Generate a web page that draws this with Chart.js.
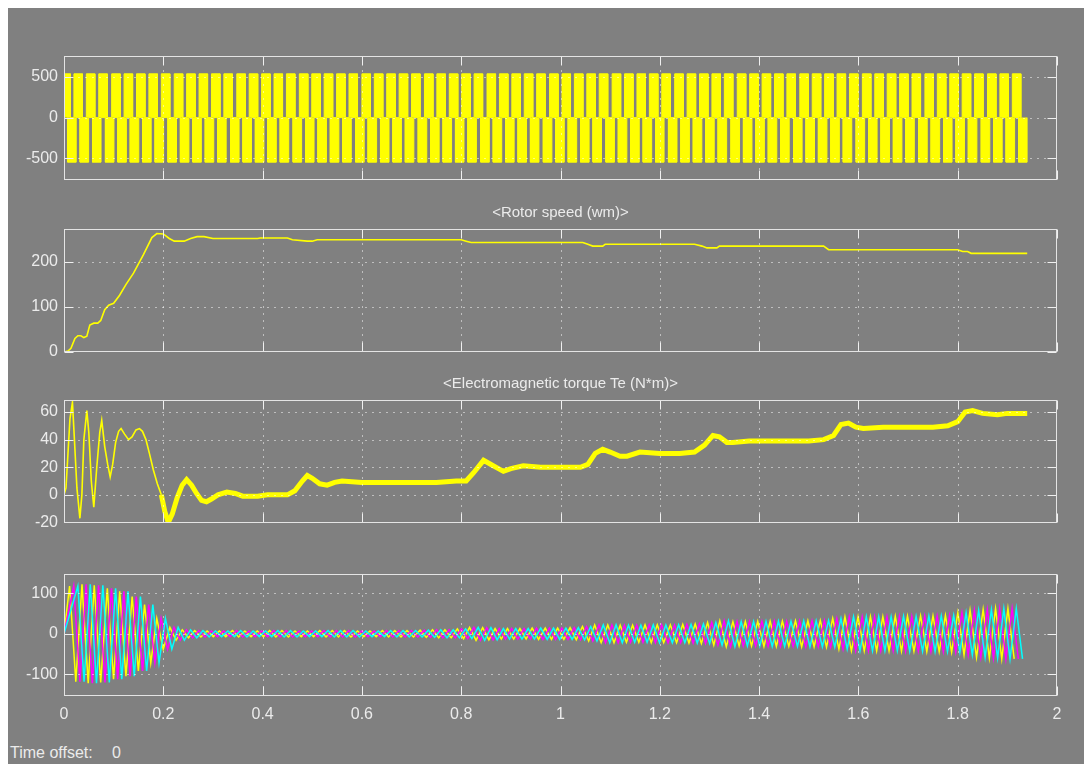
<!DOCTYPE html>
<html>
<head>
<meta charset="utf-8">
<script src="https://cdn.jsdelivr.net/npm/chart.js@4.4.1/dist/chart.umd.min.js"></script>
<style>
  html, body { margin: 0; padding: 0; background: #ffffff; width: 1084px; height: 764px; overflow: hidden; }
  #scope { position: absolute; left: 8px; top: 8px; width: 1076px; height: 756px; background: #808080; }
  canvas { position: absolute; left: 0; }
  .txt { position: absolute; font-family: "Liberation Sans", Arial, sans-serif; color: #ebebeb; white-space: nowrap; }
  .title { left: 360px; width: 401px; text-align: center; font-size: 15px; line-height: 17px; }
</style>
</head>
<body>
<div id="scope"></div>
<canvas id="pVolt"></canvas>
<canvas id="pSpeed"></canvas>
<canvas id="pTorque"></canvas>
<canvas id="pCurrent"></canvas>
<div class="txt title" style="top:203px">&lt;Rotor speed (wm)&gt;</div>
<div class="txt title" style="top:374px">&lt;Electromagnetic torque Te (N*m)&gt;</div>
<div class="txt" style="left:10px; top:744px; font-size:16px; line-height:18px">Time offset:</div>
<div class="txt" style="left:112px; top:744px; font-size:16px; line-height:18px">0</div>

<script>
// ---- axis ticks ----
const timeTicks = [0, 0.2, 0.4, 0.6, 0.8, 1, 1.2, 1.4, 1.6, 1.8, 2];
const voltageTicks = [-500, 0, 500];
const speedTicks = [0, 100, 200];
const torqueTicks = [-20, 0, 20, 40, 60];
const currentTicks = [-100, 0, 100];

// ---- inverter output voltage (V): start of each positive pulse, s ----
const pulseStarts = [
  0.020, 0.045, 0.070, 0.096, 0.121, 0.146, 0.171, 0.196, 0.222, 0.247,
  0.272, 0.297, 0.322, 0.348, 0.373, 0.398, 0.423, 0.448, 0.474, 0.499,
  0.524, 0.549, 0.574, 0.600, 0.625, 0.650, 0.675, 0.700, 0.726, 0.751,
  0.776, 0.801, 0.826, 0.852, 0.877, 0.902, 0.927, 0.952, 0.978, 1.003,
  1.028, 1.053, 1.078, 1.104, 1.129, 1.154, 1.179, 1.204, 1.230, 1.255,
  1.280, 1.305, 1.330, 1.356, 1.381, 1.406, 1.431, 1.456, 1.482, 1.507,
  1.532, 1.557, 1.582, 1.608, 1.633, 1.658, 1.683, 1.708, 1.734, 1.759,
  1.784, 1.809, 1.834, 1.860, 1.885, 1.910
];
const firstPulseEnd = 0.013;
const pulseWidth = 0.0172;
const halfPeriod = 0.0126;
const vHigh = 540;
const vLow = -550;

// ---- rotor speed (rad/s) ----
const speedTime = [0, 0.008, 0.014, 0.022, 0.028, 0.034, 0.040, 0.046, 0.052, 0.060, 0.068, 0.074, 0.082, 0.090, 0.100,
  0.112, 0.125, 0.140, 0.160, 0.177, 0.187, 0.200, 0.212, 0.222, 0.242, 0.255, 0.268, 0.282, 0.300, 0.390, 0.395,
  0.450, 0.460, 0.490, 0.500, 0.510, 0.800, 0.810, 0.820, 1.045, 1.055, 1.065, 1.085, 1.090, 1.270, 1.285, 1.295,
  1.315, 1.320, 1.530, 1.540, 1.800, 1.810, 1.820, 1.827, 1.940];
const speedValue = [0, 2, 8, 30, 36, 36, 32, 35, 60, 64, 64, 70, 94, 104, 108,
  126, 150, 175, 216, 254, 263, 262, 252, 246, 246, 252, 256, 256, 252, 252, 253,
  253, 249, 246, 246, 249, 249, 246, 243, 243, 239, 235, 235, 239, 239, 235, 231,
  231, 235, 235, 227, 227, 223, 223, 219, 219];

// ---- electromagnetic torque (N*m) ----
const torqueTime = [0, 0.004, 0.008, 0.012, 0.017, 0.021, 0.026, 0.032, 0.036, 0.040, 0.046, 0.050, 0.055, 0.060,
  0.066, 0.072, 0.076, 0.082, 0.088, 0.093, 0.098, 0.104, 0.110, 0.115, 0.122, 0.130, 0.137, 0.145, 0.152, 0.158,
  0.165, 0.172, 0.180, 0.188, 0.196,
  0.203, 0.210, 0.218, 0.228, 0.238, 0.247, 0.257, 0.267, 0.277, 0.287, 0.297, 0.310, 0.328, 0.345, 0.360, 0.375,
  0.390, 0.410, 0.430, 0.450, 0.465, 0.480, 0.490, 0.500, 0.515, 0.530, 0.545, 0.560, 0.600, 0.650, 0.700, 0.750,
  0.790, 0.810, 0.825, 0.845, 0.860, 0.875, 0.885, 0.900, 0.925, 0.960, 1.000, 1.040, 1.055, 1.070, 1.085, 1.100,
  1.120, 1.134, 1.160, 1.200, 1.240, 1.270, 1.290, 1.307, 1.320, 1.335, 1.347, 1.380, 1.450, 1.500, 1.530, 1.550,
  1.565, 1.580, 1.595, 1.610, 1.650, 1.700, 1.750, 1.780, 1.800, 1.815, 1.830, 1.850, 1.880, 1.900, 1.940];
const torqueValue = [0, 5, 30, 55, 67, 40, 5, -17, 0, 40, 61, 45, 10, -9,
  20, 45, 54, 35, 22, 13, 22, 38, 46, 48, 44, 40, 42, 47, 48, 46,
  40, 30, 18, 8, 0,
  -12, -20, -14, -2, 7, 11, 7, 1, -4, -5, -3, 0, 2, 1, -1, -1,
  -1, 0, 0, 0, 3, 10, 14, 12, 8, 7, 9, 10, 9, 9, 9, 9,
  10, 10, 16, 25, 22, 19, 17, 19, 21, 20, 20, 20, 22, 30, 33, 31,
  28, 28, 31, 30, 30, 31, 36, 43, 42, 38, 38, 39, 39, 39, 40, 43,
  51, 52, 49, 48, 49, 49, 49, 50, 53, 60, 61, 59, 58, 59, 59];
const settleTime = 0.196;

// ---- stator phase current amplitude (A), one value per electrical cycle ----
const currentAmp = [
  118, 122, 120, 112, 105, 92, 72, 38, 16, 10,
  8, 7, 7, 8, 7, 7, 8, 8, 7, 7, 8, 8, 8, 7, 7, 8, 8, 8, 9, 10, 10,
  12, 16, 15,
  13, 13, 13, 14, 14, 14, 15,
  18, 22,
  22, 21, 21, 22, 22, 22, 23, 24,
  28, 32,
  30, 30, 31, 31, 31, 32, 32, 33,
  38, 42,
  42, 42, 42, 43, 43, 44, 44, 45,
  52, 58,
  60, 62, 62
];
const traceEnd = 1.941;

const YELLOW = '#ffff00', MAGENTA = '#ff00ff', CYAN = '#00ffff';
const TEXT = '#ebebeb';
const FONT = { family: '"Liberation Sans", Arial, sans-serif', size: 16 };

// ---- build plotted point lists from the arrays above ----
function pulseTrain(spans, level) {
  const pts = [];
  spans.forEach(([a, b]) => {
    pts.push({ x: a, y: 0 }, { x: a, y: level }, { x: b, y: level }, { x: b, y: 0 });
  });
  return pts;
}
const upperPulses = [[0, firstPulseEnd]].concat(pulseStarts.map(s => [s, s + pulseWidth]));
const lowerPulses = pulseStarts.map(s => [s - halfPeriod, s - halfPeriod + pulseWidth]);
lowerPulses.push([pulseStarts[pulseStarts.length - 1] + halfPeriod,
                  pulseStarts[pulseStarts.length - 1] + halfPeriod + pulseWidth]);

const speedPts = speedTime.map((t, i) => ({ x: t, y: speedValue[i] }));
const torquePts = torqueTime.map((t, i) => ({ x: t, y: torqueValue[i] }));
const torqueStart = torquePts.filter(p => p.x <= settleTime);
const torqueRun = torquePts.filter(p => p.x >= settleTime);

function phaseCurrent(phase) {
  const pts = [{ x: 0, y: 0 }];
  pulseStarts.forEach((s, k) => {
    const next = k + 1 < pulseStarts.length ? pulseStarts[k + 1] : s + 2 * halfPeriod;
    const period = next - s;
    const shift = s - period * 0.6 + phase * period / 3;
    const a = currentAmp[k];
    [[0.25, a], [0.75, -a]].forEach(([f, v]) => {
      const t = shift + f * period;
      if (t > 0 && t <= traceEnd) pts.push({ x: t, y: v });
    });
  });
  return pts;
}

// ---- scope styling: dotted grid, inward ticks and frame drawn over the traces ----
const scopeFrame = {
  id: 'scopeFrame',
  afterDatasetsDraw(chart) {
    const { ctx, chartArea: a, scales } = chart;
    const xs = scales.x.ticks.map(t => Math.round(scales.x.getPixelForValue(t.value)) + 0.5);
    const ys = scales.y.ticks.map(t => Math.round(scales.y.getPixelForValue(t.value)) + 0.5);
    const L = Math.round(a.left) + 0.5, R = Math.round(a.right) - 0.5;
    const T = Math.round(a.top) + 0.5, B = Math.round(a.bottom) - 0.5;
    ctx.save();
    ctx.lineWidth = 1;
    ctx.strokeStyle = '#ffffff';
    ctx.setLineDash([1, 6]);
    ctx.beginPath();
    xs.forEach(x => { if (x > L + 2 && x < R - 2) { ctx.moveTo(x, T); ctx.lineTo(x, B); } });
    ys.forEach(y => { if (y > T + 2 && y < B - 2) { ctx.moveTo(L, y); ctx.lineTo(R, y); } });
    ctx.stroke();
    ctx.setLineDash([]);
    ctx.strokeStyle = '#f0f0f0';
    ctx.beginPath();
    const len = 9;
    xs.forEach(x => { ctx.moveTo(x, T); ctx.lineTo(x, T + len); ctx.moveTo(x, B); ctx.lineTo(x, B - len); });
    ys.forEach(y => { ctx.moveTo(L, y); ctx.lineTo(L + len, y); ctx.moveTo(R, y); ctx.lineTo(R - len, y); });
    ctx.stroke();
    ctx.strokeStyle = '#e4e4e4';
    ctx.strokeRect(L, T, R - L, B - T);
    ctx.restore();
  }
};

function panel(id, plotTop, plotH, withTime, yMin, yMax, yTicks, datasets) {
  const cv = document.getElementById(id);
  const padTop = 12, below = withTime ? 36 : 12;
  cv.width = 1084;
  cv.height = padTop + plotH + below;
  cv.style.top = (plotTop - padTop) + 'px';
  return new Chart(cv, {
    type: 'line',
    data: { datasets },
    options: {
      responsive: false,
      animation: false,
      devicePixelRatio: 1,
      layout: { padding: { left: 0, right: 27, top: padTop, bottom: withTime ? 0 : below } },
      plugins: { legend: { display: false }, tooltip: { enabled: false }, title: { display: false } },
      elements: { point: { radius: 0 }, line: { tension: 0 } },
      scales: {
        x: {
          type: 'linear', min: 0, max: 2,
          grid: { display: false, drawTicks: false },
          border: { display: false },
          ticks: {
            display: withTime, color: TEXT, font: FONT, padding: 9,
            autoSkip: false, maxRotation: 0,
            callback: v => String(Number(v.toFixed(1)))
          },
          afterBuildTicks: s => { s.ticks = timeTicks.map(v => ({ value: v })); },
          afterFit: s => { s.height = withTime ? 36 : 0; s.paddingLeft = 0; s.paddingRight = 0; }
        },
        y: {
          type: 'linear', min: yMin, max: yMax,
          grid: { display: false, drawTicks: false },
          border: { display: false },
          ticks: { color: TEXT, font: FONT, padding: 6, autoSkip: false, callback: v => String(v) },
          afterBuildTicks: s => { s.ticks = yTicks.map(v => ({ value: v })); },
          afterFit: s => { s.width = 64; s.paddingTop = 0; s.paddingBottom = 0; }
        }
      }
    },
    plugins: [scopeFrame]
  });
}

const lineDs = (data, color, width) => ({
  data, borderColor: color, borderWidth: width, fill: false, pointRadius: 0
});

panel('pVolt', 56, 124, false, -770, 760, voltageTicks, [
  { data: pulseTrain(upperPulses, vHigh), borderColor: YELLOW, backgroundColor: YELLOW, borderWidth: 1, fill: 'origin' },
  { data: pulseTrain(lowerPulses, vLow), borderColor: YELLOW, backgroundColor: YELLOW, borderWidth: 1, fill: 'origin' }
]);

panel('pSpeed', 229, 123, false, 0, 273, speedTicks, [
  lineDs(speedPts, YELLOW, 1.6)
]);

panel('pTorque', 400, 123, false, -20.4, 68.7, torqueTicks, [
  lineDs(torqueStart, YELLOW, 1.6),
  lineDs(torqueRun, YELLOW, 5)
]);

panel('pCurrent', 574, 122, true, -153.6, 147.6, currentTicks, [
  lineDs(phaseCurrent(2), CYAN, 1.5),
  lineDs(phaseCurrent(1), MAGENTA, 1.5),
  lineDs(phaseCurrent(0), YELLOW, 1.5)
]);
</script>
</body>
</html>
